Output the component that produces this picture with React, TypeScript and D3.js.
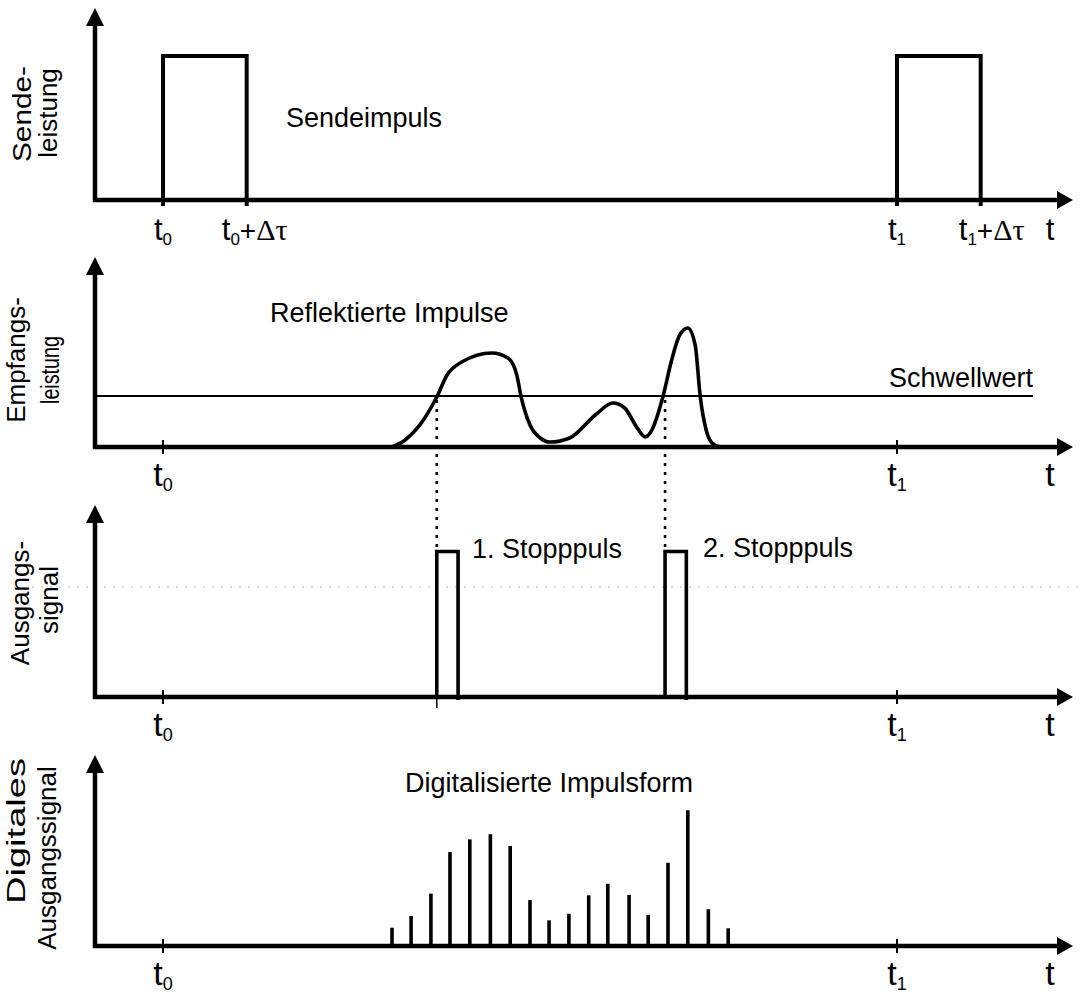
import React from "react";
import * as d3 from "d3";

// ---- data (time in units: t0 = 0, t1 = 100; amplitudes 0..100) ----
const sendPulseStarts = [0, 100];
const sendPulseWidth = 11.4;
const sendPulseHeight = 96;

const echoT = [31.2, 33.0, 35.0, 37.3, 38.7, 40.7, 44.8, 47.0, 48.2, 48.8, 50.0, 51.4, 52.7, 55.4, 58.9, 61.3, 62.9, 64.6, 65.7, 66.6, 68.1, 69.3, 70.4, 71.5, 72.5, 73.2, 74.0, 74.8, 75.9];
const echoV = [0, 4.7, 14.7, 33.3, 48, 56.7, 62.7, 59.3, 48, 33.3, 14.7, 6, 3.3, 6, 21.3, 29.3, 26, 12.7, 6.7, 11.3, 33.3, 58, 74.7, 79.3, 68, 33.3, 11.3, 2.7, 0];
const threshold = 34;

const stopStarts = [37.3, 68.4];
const stopWidth = 2.9;
const stopHeight = 97;

const sampleT = [31.2, 33.8, 36.5, 39.1, 41.8, 44.6, 47.3, 50.0, 52.6, 55.3, 58.0, 60.6, 63.5, 66.1, 68.8, 71.5, 74.3, 77.0];
const sampleV = [12.2, 20, 34.9, 62.7, 71.1, 74.5, 66.7, 30.7, 17.1, 21.5, 33.8, 41.5, 34, 20.7, 55.5, 90.5, 24.5, 11.8];

const tickTimes = [0, 100];

// ---- layout ----
const W = 1080;
const H = 996;
const axisX = 95;
const axisEnd = 1073;
const baselines = [200, 447, 697, 946];
const arrowTops = [8, 257, 505, 755];
const SANS = "'Liberation Sans', Arial, Helvetica, sans-serif";
const SERIF = "'Liberation Serif', 'Times New Roman', serif";

const x = d3.scaleLinear().domain([0, 100]).range([163, 897]);
const yFor = (i: number) => d3.scaleLinear().domain([0, 100]).range([baselines[i], baselines[i] - 150]);

function Axes({ i }: { i: number }) {
  const b = baselines[i];
  const top = arrowTops[i];
  return (
    <g>
      <line x1={axisX} y1={b + 2} x2={axisX} y2={top + 14} stroke="#000" strokeWidth={4.5} />
      <polygon points={`${axisX},${top} ${axisX - 9},${top + 18} ${axisX + 9},${top + 18}`} fill="#000" />
      <line x1={axisX - 2} y1={b} x2={axisEnd - 12} y2={b} stroke="#000" strokeWidth={4.5} />
      <polygon points={`${axisEnd},${b} ${axisEnd - 16},${b - 9} ${axisEnd - 16},${b + 9}`} fill="#000" />
    </g>
  );
}

function TLabel({ cx, y, sub, big, extra }: { cx: number; y: number; sub: string; big: boolean; extra?: boolean }) {
  const fs = big ? 34 : 31;
  const sfs = big ? 18 : 17;
  return (
    <text x={cx} y={y} textAnchor="middle" fontFamily={SANS} fontSize={fs} fill="#000">
      <tspan>t</tspan>
      <tspan fontSize={sfs} dy={5}>{sub}</tspan>
      {extra ? (
        <>
          <tspan dy={-5} fontSize={28}>+</tspan>
          <tspan fontFamily={SERIF} fontSize={30}>Δτ</tspan>
        </>
      ) : null}
    </text>
  );
}

type SideLine = { text: string; x: number; cy: number; len?: number };

function SideLabel({ lines }: { lines: SideLine[] }) {
  return (
    <g>
      {lines.map((l, k) => (
        <text
          key={k}
          transform={`translate(${l.x},${l.cy}) rotate(-90)`}
          textAnchor="middle"
          fontFamily={SANS}
          fontSize={26}
          textLength={l.len}
          lengthAdjust="spacingAndGlyphs"
          fill="#000"
        >
          {l.text}
        </text>
      ))}
    </g>
  );
}

export default function App() {
  const y0 = yFor(0);
  const y1 = yFor(1);
  const y2 = yFor(2);
  const y3 = yFor(3);

  const echoPts: [number, number][] = echoT.map((t, k) => [x(t), y1(echoV[k])]);
  const echoPath = d3.line().curve(d3.curveMonotoneX)(echoPts) || "";

  return (
    <svg width={W} height={H} viewBox={`0 0 ${W} ${H}`} style={{ display: "block", position: "absolute", left: 0, top: 0, background: "#fff" }}>
      <rect x={0} y={0} width={W} height={H} fill="#fff" />

      {/* faint scan line in panel 3 */}
      <line x1={14} y1={587} x2={1078} y2={587} stroke="#bbb" strokeWidth={1} strokeDasharray="2 7" />

      {/* Panel 1: Sendeleistung */}
      <Axes i={0} />
      {sendPulseStarts.map((t, k) => (
        <path
          key={k}
          d={`M${x(t)},${baselines[0] + 6} V${y0(sendPulseHeight)} H${x(t + sendPulseWidth)} V${baselines[0] + 6}`}
          fill="none"
          stroke="#000"
          strokeWidth={4}
        />
      ))}
      <text x={286} y={127} fontFamily={SANS} fontSize={27} fill="#000">Sendeimpuls</text>
      <TLabel cx={x(0)} y={240} sub="0" big={false} />
      <TLabel cx={x(sendPulseWidth) + 8} y={240} sub="0" big={false} extra />
      <TLabel cx={x(100)} y={240} sub="1" big={false} />
      <TLabel cx={x(100 + sendPulseWidth) + 11} y={240} sub="1" big={false} extra />
      <text x={1050} y={240} textAnchor="middle" fontFamily={SANS} fontSize={31}>t</text>
      <SideLabel
        lines={[
          { text: "Sende-", x: 31, cy: 114, len: 96 },
          { text: "leistung", x: 57, cy: 113 },
        ]}
      />

      {/* Panel 2: Empfangsleistung */}
      <Axes i={1} />
      <line x1={axisX} y1={y1(threshold)} x2={1033} y2={y1(threshold)} stroke="#000" strokeWidth={2} />
      <path d={echoPath} fill="none" stroke="#000" strokeWidth={3.6} strokeLinejoin="round" />
      <text x={270} y={322} fontFamily={SANS} fontSize={27}>Reflektierte Impulse</text>
      <text x={889} y={387} fontFamily={SANS} fontSize={27}>Schwellwert</text>
      <SideLabel
        lines={[
          { text: "Empfangs-", x: 25, cy: 360 },
          { text: "leistung", x: 59, cy: 370, len: 68 },
        ]}
      />

      {/* dotted projections */}
      {stopStarts.map((t, k) => (
        <line
          key={k}
          x1={x(t)}
          y1={y1(threshold) + 4}
          x2={x(t)}
          y2={y2(stopHeight)}
          stroke="#000"
          strokeWidth={2.6}
          strokeDasharray="3 6"
        />
      ))}
      <line x1={x(stopStarts[0])} y1={baselines[2]} x2={x(stopStarts[0])} y2={baselines[2] + 11} stroke="#000" strokeWidth={1.5} />

      {/* Panel 3: Ausgangssignal */}
      <Axes i={2} />
      {stopStarts.map((t, k) => (
        <path
          key={k}
          d={`M${x(t)},${baselines[2]} V${y2(stopHeight)} H${x(t + stopWidth)} V${baselines[2] + 3}`}
          fill="none"
          stroke="#000"
          strokeWidth={3.6}
        />
      ))}
      <text x={472} y={558} fontFamily={SANS} fontSize={27}>1. Stopppuls</text>
      <text x={703} y={557} fontFamily={SANS} fontSize={27}>2. Stopppuls</text>
      <SideLabel
        lines={[
          { text: "Ausgangs-", x: 29, cy: 603 },
          { text: "signal", x: 58, cy: 600 },
        ]}
      />

      {/* Panel 4: Digitales Ausgangssignal */}
      <Axes i={3} />
      {sampleT.map((t, k) => (
        <line key={k} x1={x(t)} y1={baselines[3]} x2={x(t)} y2={y3(sampleV[k])} stroke="#000" strokeWidth={3.6} />
      ))}
      <text x={405} y={792} fontFamily={SANS} fontSize={27}>Digitalisierte Impulsform</text>
      <SideLabel
        lines={[
          { text: "Digitales", x: 25, cy: 831, len: 146 },
          { text: "Ausgangssignal", x: 56, cy: 858 },
        ]}
      />

      {/* ticks and t labels for panels 2-4 */}
      {[1, 2, 3].map((i) => (
        <g key={i}>
          {tickTimes.map((t, k) => (
            <line key={k} x1={x(t)} y1={baselines[i] - 7} x2={x(t)} y2={baselines[i] + 7} stroke="#000" strokeWidth={2} />
          ))}
          <TLabel cx={x(0)} y={baselines[i] + 39} sub="0" big />
          <TLabel cx={x(100)} y={baselines[i] + 39} sub="1" big />
          <text x={1050} y={baselines[i] + 39} textAnchor="middle" fontFamily={SANS} fontSize={34}>t</text>
        </g>
      ))}
    </svg>
  );
}
